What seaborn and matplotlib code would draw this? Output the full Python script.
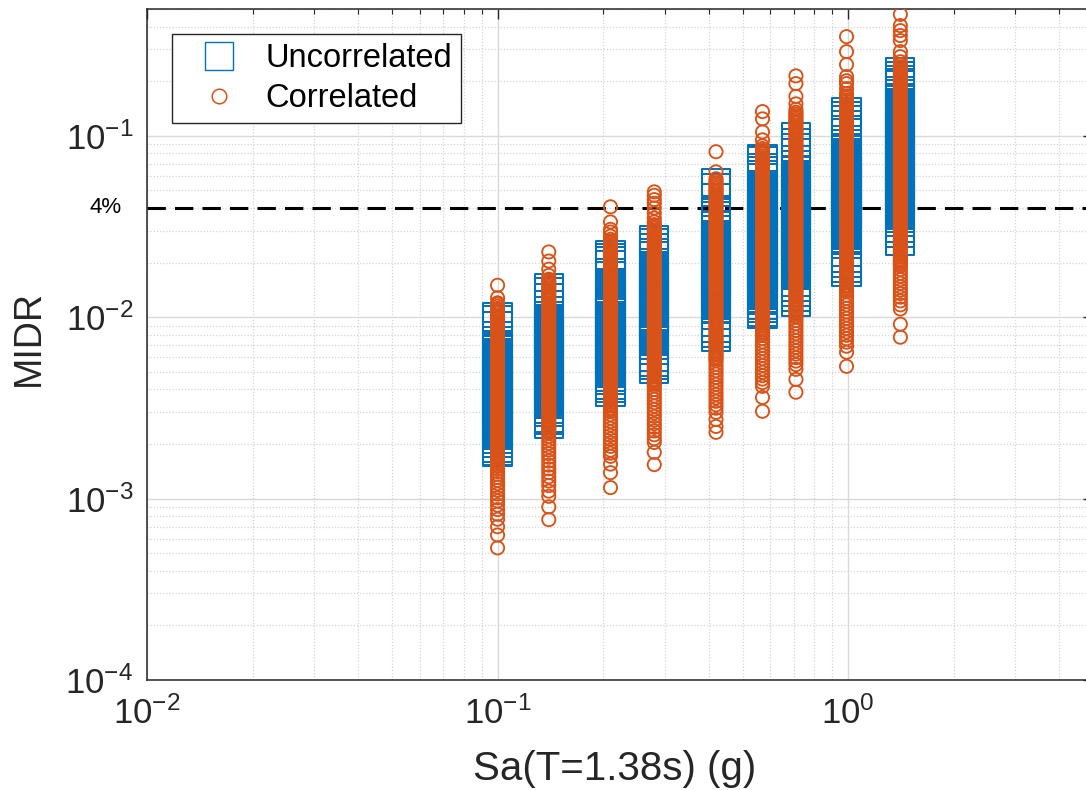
import numpy as np
import pandas as pd
import matplotlib
matplotlib.use("Agg")
import matplotlib.pyplot as plt
import seaborn as sns
from matplotlib.lines import Line2D
from matplotlib.ticker import LogLocator, NullFormatter

# ---------------- data ----------------
sa_levels = [0.10, 0.14, 0.21, 0.28, 0.42, 0.57, 0.71, 0.99, 1.41]

# --- Sa = 0.10 g ---
unc_010 = [1.00e-2, 9.63e-3, 8.91e-3, 7.85e-3, 7.36e-3, 6.92e-3, 6.58e-3, 6.33e-3,
           6.17e-3, 6.03e-3, 5.89e-3, 5.75e-3, 5.62e-3, 5.50e-3, 5.37e-3, 5.25e-3, 5.13e-3, 5.01e-3,
           4.90e-3, 4.79e-3, 4.68e-3, 4.57e-3, 4.47e-3, 4.37e-3, 4.27e-3, 4.17e-3, 4.07e-3, 3.98e-3,
           3.89e-3, 3.80e-3, 3.72e-3, 3.63e-3, 3.55e-3, 3.47e-3, 3.39e-3, 3.31e-3, 3.24e-3, 3.16e-3,
           3.09e-3, 3.02e-3, 2.95e-3, 2.88e-3, 2.82e-3, 2.75e-3, 2.69e-3, 2.63e-3, 2.57e-3, 2.51e-3,
           2.46e-3, 2.40e-3, 2.34e-3, 2.29e-3,
           2.23e-3, 2.14e-3, 2.04e-3, 1.91e-3, 1.84e-3, 1.80e-3]
cor_010 = [1.50e-2, 1.28e-2,
           1.20e-2, 1.18e-2, 1.15e-2, 1.12e-2, 1.10e-2, 1.07e-2, 1.05e-2, 1.02e-2, 1.00e-2,
           9.77e-3, 9.55e-3, 9.33e-3, 9.12e-3, 8.91e-3, 8.71e-3, 8.51e-3, 8.32e-3, 8.13e-3, 7.94e-3,
           7.76e-3, 7.59e-3, 7.41e-3, 7.24e-3, 7.08e-3, 6.92e-3, 6.76e-3, 6.61e-3, 6.46e-3, 6.31e-3,
           6.17e-3, 6.03e-3, 5.89e-3, 5.75e-3, 5.62e-3, 5.50e-3, 5.37e-3, 5.25e-3, 5.13e-3, 5.01e-3,
           4.90e-3, 4.79e-3, 4.68e-3, 4.57e-3, 4.47e-3, 4.37e-3, 4.27e-3, 4.17e-3, 4.07e-3, 3.98e-3,
           3.89e-3, 3.80e-3, 3.72e-3, 3.63e-3, 3.55e-3, 3.47e-3, 3.39e-3, 3.31e-3, 3.24e-3, 3.16e-3,
           3.09e-3, 3.02e-3, 2.95e-3, 2.88e-3, 2.82e-3, 2.75e-3, 2.69e-3, 2.63e-3, 2.57e-3, 2.51e-3,
           2.46e-3, 2.40e-3, 2.34e-3, 2.29e-3, 2.24e-3, 2.19e-3, 2.14e-3, 2.09e-3, 2.04e-3, 2.00e-3,
           1.95e-3, 1.91e-3, 1.86e-3, 1.82e-3, 1.78e-3, 1.74e-3, 1.70e-3, 1.66e-3, 1.62e-3, 1.58e-3,
           1.55e-3, 1.51e-3,
           1.46e-3, 1.41e-3, 1.36e-3, 1.31e-3, 1.26e-3, 1.21e-3, 1.16e-3, 1.11e-3, 1.06e-3,
           1.01e-3, 9.7e-4, 9.2e-4, 8.7e-4, 8.2e-4, 7.7e-4, 7.0e-4, 6.3e-4, 5.35e-4]

# --- Sa = 0.14 g ---
unc_014 = [1.445e-2, 1.374e-2, 1.274e-2, 1.164e-2, 1.079e-2, 1.014e-2,
           9.77e-3, 9.55e-3, 9.33e-3, 9.12e-3, 8.91e-3, 8.71e-3, 8.51e-3, 8.32e-3, 8.13e-3, 7.94e-3,
           7.76e-3, 7.59e-3, 7.41e-3, 7.24e-3, 7.08e-3, 6.92e-3, 6.76e-3, 6.61e-3, 6.46e-3, 6.31e-3,
           6.17e-3, 6.03e-3, 5.89e-3, 5.75e-3, 5.62e-3, 5.50e-3, 5.37e-3, 5.25e-3, 5.13e-3, 5.01e-3,
           4.90e-3, 4.79e-3, 4.68e-3, 4.57e-3, 4.47e-3, 4.37e-3, 4.27e-3, 4.17e-3, 4.07e-3, 3.98e-3,
           3.89e-3, 3.80e-3, 3.72e-3, 3.63e-3, 3.55e-3, 3.47e-3, 3.39e-3, 3.31e-3,
           3.14e-3, 2.99e-3, 2.80e-3, 2.70e-3, 2.59e-3]
cor_014 = [2.29e-2, 2.04e-2, 1.84e-2, 1.70e-2,
           1.62e-2, 1.58e-2, 1.55e-2, 1.51e-2, 1.48e-2, 1.45e-2, 1.41e-2, 1.38e-2, 1.35e-2,
           1.32e-2, 1.29e-2, 1.26e-2,
           1.23e-2, 1.20e-2, 1.18e-2, 1.15e-2, 1.12e-2, 1.10e-2, 1.07e-2, 1.05e-2, 1.02e-2, 1.00e-2,
           9.77e-3, 9.55e-3, 9.33e-3, 9.12e-3, 8.91e-3, 8.71e-3, 8.51e-3, 8.32e-3, 8.13e-3, 7.94e-3,
           7.76e-3, 7.59e-3, 7.41e-3, 7.24e-3, 7.08e-3, 6.92e-3, 6.76e-3, 6.61e-3, 6.46e-3, 6.31e-3,
           6.17e-3, 6.03e-3, 5.89e-3, 5.75e-3, 5.62e-3, 5.50e-3, 5.37e-3, 5.25e-3, 5.13e-3, 5.01e-3,
           4.90e-3, 4.79e-3, 4.68e-3, 4.57e-3, 4.47e-3, 4.37e-3, 4.27e-3, 4.17e-3, 4.07e-3, 3.98e-3,
           3.89e-3, 3.80e-3, 3.72e-3, 3.63e-3, 3.55e-3, 3.47e-3, 3.39e-3, 3.31e-3, 3.24e-3, 3.16e-3,
           3.09e-3, 3.02e-3, 2.95e-3, 2.88e-3, 2.82e-3, 2.75e-3, 2.69e-3, 2.63e-3, 2.57e-3, 2.51e-3,
           2.46e-3, 2.40e-3, 2.34e-3, 2.29e-3,
           2.20e-3, 2.11e-3, 2.02e-3, 1.93e-3, 1.85e-3, 1.77e-3, 1.69e-3, 1.61e-3, 1.53e-3,
           1.46e-3, 1.39e-3, 1.32e-3, 1.25e-3, 1.18e-3, 1.10e-3, 1.03e-3, 9.0e-4, 7.66e-4]

# --- Sa = 0.21 g ---
unc_021 = [2.20e-2, 2.12e-2, 2.04e-2, 1.94e-2, 1.75e-2, 1.69e-2, 1.50e-2,
           1.45e-2, 1.41e-2, 1.38e-2, 1.35e-2, 1.32e-2, 1.29e-2, 1.26e-2,
           1.23e-2, 1.20e-2, 1.18e-2, 1.15e-2, 1.12e-2, 1.10e-2, 1.07e-2, 1.05e-2, 1.02e-2, 1.00e-2,
           9.77e-3, 9.55e-3, 9.33e-3, 9.12e-3, 8.91e-3, 8.71e-3, 8.51e-3, 8.32e-3, 8.13e-3, 7.94e-3,
           7.76e-3, 7.59e-3, 7.41e-3, 7.24e-3, 7.08e-3, 6.92e-3, 6.76e-3, 6.61e-3, 6.46e-3, 6.31e-3,
           6.17e-3, 6.03e-3, 5.89e-3, 5.75e-3, 5.62e-3, 5.50e-3, 5.37e-3, 5.25e-3, 5.13e-3, 5.01e-3,
           4.90e-3,
           4.66e-3, 4.49e-3, 4.21e-3, 4.05e-3, 3.86e-3]
cor_021 = [4.06e-2, 3.35e-2, 3.05e-2, 2.95e-2, 2.80e-2,
           2.69e-2, 2.63e-2, 2.57e-2, 2.51e-2,
           2.46e-2, 2.40e-2, 2.34e-2, 2.29e-2, 2.24e-2, 2.19e-2, 2.14e-2, 2.09e-2, 2.04e-2, 2.00e-2,
           1.95e-2, 1.91e-2, 1.86e-2, 1.82e-2, 1.78e-2, 1.74e-2, 1.70e-2, 1.66e-2, 1.62e-2, 1.58e-2,
           1.55e-2, 1.51e-2, 1.48e-2, 1.45e-2, 1.41e-2, 1.38e-2, 1.35e-2, 1.32e-2, 1.29e-2, 1.26e-2,
           1.23e-2, 1.20e-2, 1.18e-2, 1.15e-2, 1.12e-2, 1.10e-2, 1.07e-2, 1.05e-2, 1.02e-2, 1.00e-2,
           9.77e-3, 9.55e-3, 9.33e-3, 9.12e-3, 8.91e-3, 8.71e-3, 8.51e-3, 8.32e-3, 8.13e-3, 7.94e-3,
           7.76e-3, 7.59e-3, 7.41e-3, 7.24e-3, 7.08e-3, 6.92e-3, 6.76e-3, 6.61e-3, 6.46e-3, 6.31e-3,
           6.17e-3, 6.03e-3, 5.89e-3, 5.75e-3, 5.62e-3, 5.50e-3, 5.37e-3, 5.25e-3, 5.13e-3, 5.01e-3,
           4.90e-3, 4.79e-3, 4.68e-3, 4.57e-3, 4.47e-3, 4.37e-3, 4.27e-3, 4.17e-3, 4.07e-3, 3.98e-3,
           3.89e-3, 3.80e-3, 3.72e-3, 3.63e-3, 3.55e-3, 3.47e-3, 3.39e-3, 3.31e-3, 3.24e-3, 3.16e-3,
           3.09e-3, 3.02e-3,
           2.90e-3, 2.78e-3, 2.66e-3, 2.55e-3, 2.44e-3, 2.33e-3, 2.23e-3, 2.13e-3, 2.03e-3,
           1.94e-3, 1.85e-3, 1.78e-3, 1.71e-3, 1.55e-3, 1.39e-3, 1.15e-3]

# --- Sa = 0.28 g ---
unc_028 = [2.66e-2, 2.56e-2, 2.40e-2, 2.26e-2, 2.17e-2, 1.99e-2,
           1.91e-2, 1.86e-2, 1.82e-2, 1.78e-2, 1.74e-2, 1.70e-2, 1.66e-2, 1.62e-2, 1.58e-2,
           1.55e-2, 1.51e-2, 1.48e-2, 1.45e-2, 1.41e-2, 1.38e-2, 1.35e-2, 1.32e-2, 1.29e-2, 1.26e-2,
           1.23e-2, 1.20e-2, 1.18e-2, 1.15e-2, 1.12e-2, 1.10e-2, 1.07e-2, 1.05e-2, 1.02e-2, 1.00e-2,
           9.77e-3, 9.55e-3, 9.33e-3, 9.12e-3, 8.91e-3, 8.71e-3, 8.51e-3, 8.32e-3, 8.13e-3, 7.94e-3,
           7.76e-3, 7.59e-3, 7.41e-3,
           7.00e-3, 6.58e-3, 6.01e-3, 5.64e-3, 5.43e-3, 5.16e-3]
cor_028 = [4.91e-2, 4.70e-2, 4.45e-2, 4.25e-2, 4.00e-2, 3.75e-2, 3.52e-2, 3.35e-2,
           3.24e-2, 3.16e-2,
           3.09e-2, 3.02e-2, 2.95e-2, 2.88e-2, 2.82e-2, 2.75e-2, 2.69e-2, 2.63e-2, 2.57e-2, 2.51e-2,
           2.46e-2, 2.40e-2, 2.34e-2, 2.29e-2, 2.24e-2, 2.19e-2, 2.14e-2, 2.09e-2, 2.04e-2, 2.00e-2,
           1.95e-2, 1.91e-2, 1.86e-2, 1.82e-2, 1.78e-2, 1.74e-2, 1.70e-2, 1.66e-2, 1.62e-2, 1.58e-2,
           1.55e-2, 1.51e-2, 1.48e-2, 1.45e-2, 1.41e-2, 1.38e-2, 1.35e-2, 1.32e-2, 1.29e-2, 1.26e-2,
           1.23e-2, 1.20e-2, 1.18e-2, 1.15e-2, 1.12e-2, 1.10e-2, 1.07e-2, 1.05e-2, 1.02e-2, 1.00e-2,
           9.77e-3, 9.55e-3, 9.33e-3, 9.12e-3, 8.91e-3, 8.71e-3, 8.51e-3, 8.32e-3, 8.13e-3, 7.94e-3,
           7.76e-3, 7.59e-3, 7.41e-3, 7.24e-3, 7.08e-3, 6.92e-3, 6.76e-3, 6.61e-3, 6.46e-3, 6.31e-3,
           6.17e-3, 6.03e-3, 5.89e-3, 5.75e-3, 5.62e-3, 5.50e-3, 5.37e-3, 5.25e-3, 5.13e-3, 5.01e-3,
           4.90e-3, 4.79e-3, 4.68e-3, 4.57e-3, 4.47e-3, 4.37e-3, 4.27e-3, 4.17e-3,
           4.00e-3, 3.84e-3, 3.68e-3, 3.53e-3, 3.38e-3, 3.24e-3, 3.10e-3, 2.97e-3, 2.84e-3,
           2.71e-3, 2.59e-3, 2.47e-3, 2.36e-3, 2.25e-3, 2.14e-3, 2.04e-3, 1.80e-3, 1.54e-3]

# --- Sa = 0.42 g ---
unc_042 = [5.50e-2, 5.16e-2, 4.54e-2, 3.90e-2, 3.76e-2, 3.43e-2, 3.22e-2, 3.03e-2, 2.84e-2,
           2.75e-2, 2.69e-2, 2.63e-2, 2.57e-2, 2.51e-2,
           2.46e-2, 2.40e-2, 2.34e-2, 2.29e-2, 2.24e-2, 2.19e-2, 2.14e-2, 2.09e-2, 2.04e-2, 2.00e-2,
           1.95e-2, 1.91e-2, 1.86e-2, 1.82e-2, 1.78e-2, 1.74e-2, 1.70e-2, 1.66e-2, 1.62e-2, 1.58e-2,
           1.55e-2, 1.51e-2, 1.48e-2, 1.45e-2, 1.41e-2, 1.38e-2, 1.35e-2, 1.32e-2, 1.29e-2, 1.26e-2,
           1.23e-2, 1.20e-2, 1.18e-2,
           1.12e-2, 1.026e-2, 9.38e-3, 8.69e-3, 8.17e-3, 7.76e-3]
cor_042 = [8.17e-2, 6.33e-2, 5.80e-2,
           5.62e-2, 5.50e-2, 5.37e-2, 5.25e-2, 5.13e-2, 5.01e-2,
           4.90e-2, 4.79e-2, 4.68e-2, 4.57e-2, 4.47e-2, 4.37e-2, 4.27e-2, 4.17e-2, 4.07e-2, 3.98e-2,
           3.89e-2, 3.80e-2, 3.72e-2, 3.63e-2, 3.55e-2, 3.47e-2, 3.39e-2, 3.31e-2, 3.24e-2, 3.16e-2,
           3.09e-2, 3.02e-2, 2.95e-2, 2.88e-2, 2.82e-2, 2.75e-2, 2.69e-2, 2.63e-2, 2.57e-2, 2.51e-2,
           2.46e-2, 2.40e-2, 2.34e-2, 2.29e-2, 2.24e-2, 2.19e-2, 2.14e-2, 2.09e-2, 2.04e-2, 2.00e-2,
           1.95e-2, 1.91e-2, 1.86e-2, 1.82e-2, 1.78e-2, 1.74e-2, 1.70e-2, 1.66e-2, 1.62e-2, 1.58e-2,
           1.55e-2, 1.51e-2, 1.48e-2, 1.45e-2, 1.41e-2, 1.38e-2, 1.35e-2, 1.32e-2, 1.29e-2, 1.26e-2,
           1.23e-2, 1.20e-2, 1.18e-2, 1.15e-2, 1.12e-2, 1.10e-2, 1.07e-2, 1.05e-2, 1.02e-2, 1.00e-2,
           9.77e-3, 9.55e-3, 9.33e-3, 9.12e-3, 8.91e-3, 8.71e-3, 8.51e-3, 8.32e-3, 8.13e-3, 7.94e-3,
           7.76e-3, 7.59e-3, 7.41e-3, 7.24e-3, 7.08e-3, 6.92e-3, 6.76e-3, 6.61e-3, 6.46e-3, 6.31e-3,
           6.17e-3, 6.03e-3, 5.89e-3, 5.75e-3,
           5.52e-3, 5.29e-3, 5.07e-3, 4.86e-3, 4.66e-3, 4.46e-3, 4.27e-3, 4.09e-3, 3.92e-3,
           3.75e-3, 3.59e-3, 3.44e-3, 3.29e-3, 3.15e-3, 2.99e-3, 2.73e-3, 2.50e-3, 2.32e-3]

# --- Sa = 0.57 g ---
unc_057 = [7.46e-2, 7.28e-2, 6.66e-2, 6.41e-2, 6.09e-2, 5.86e-2, 5.36e-2, 5.16e-2,
           5.01e-2,
           4.90e-2, 4.79e-2, 4.68e-2, 4.57e-2, 4.47e-2, 4.37e-2, 4.27e-2, 4.17e-2, 4.07e-2, 3.98e-2,
           3.89e-2, 3.80e-2, 3.72e-2, 3.63e-2, 3.55e-2, 3.47e-2, 3.39e-2, 3.31e-2, 3.24e-2, 3.16e-2,
           3.09e-2, 3.02e-2, 2.95e-2, 2.88e-2, 2.82e-2, 2.75e-2, 2.69e-2, 2.63e-2, 2.57e-2, 2.51e-2,
           2.46e-2, 2.40e-2, 2.34e-2, 2.29e-2, 2.24e-2, 2.19e-2, 2.14e-2, 2.09e-2, 2.04e-2, 2.00e-2,
           1.95e-2, 1.91e-2, 1.86e-2, 1.82e-2, 1.78e-2, 1.74e-2, 1.70e-2, 1.66e-2, 1.62e-2, 1.58e-2,
           1.55e-2, 1.51e-2, 1.48e-2, 1.45e-2, 1.41e-2, 1.38e-2, 1.35e-2, 1.32e-2,
           1.274e-2, 1.242e-2, 1.164e-2, 1.12e-2, 1.067e-2, 1.04e-2]
cor_057 = [1.36e-1, 1.24e-1, 1.05e-1, 9.50e-2, 8.80e-2,
           8.51e-2, 8.32e-2, 8.13e-2, 7.94e-2,
           7.76e-2, 7.59e-2, 7.41e-2, 7.24e-2, 7.08e-2, 6.92e-2, 6.76e-2, 6.61e-2, 6.46e-2, 6.31e-2,
           6.17e-2, 6.03e-2, 5.89e-2, 5.75e-2, 5.62e-2, 5.50e-2, 5.37e-2, 5.25e-2, 5.13e-2, 5.01e-2,
           4.90e-2, 4.79e-2, 4.68e-2, 4.57e-2, 4.47e-2, 4.37e-2, 4.27e-2, 4.17e-2, 4.07e-2, 3.98e-2,
           3.89e-2, 3.80e-2, 3.72e-2, 3.63e-2, 3.55e-2, 3.47e-2, 3.39e-2, 3.31e-2, 3.24e-2, 3.16e-2,
           3.09e-2, 3.02e-2, 2.95e-2, 2.88e-2, 2.82e-2, 2.75e-2, 2.69e-2, 2.63e-2, 2.57e-2, 2.51e-2,
           2.46e-2, 2.40e-2, 2.34e-2, 2.29e-2, 2.24e-2, 2.19e-2, 2.14e-2, 2.09e-2, 2.04e-2, 2.00e-2,
           1.95e-2, 1.91e-2, 1.86e-2, 1.82e-2, 1.78e-2, 1.74e-2, 1.70e-2, 1.66e-2, 1.62e-2, 1.58e-2,
           1.55e-2, 1.51e-2, 1.48e-2, 1.45e-2, 1.41e-2, 1.38e-2, 1.35e-2, 1.32e-2, 1.29e-2, 1.26e-2,
           1.23e-2, 1.20e-2, 1.18e-2, 1.15e-2, 1.12e-2, 1.10e-2, 1.07e-2, 1.05e-2, 1.02e-2, 1.00e-2,
           9.77e-3, 9.55e-3, 9.33e-3, 9.12e-3, 8.91e-3, 8.71e-3, 8.51e-3, 8.32e-3, 8.13e-3, 7.94e-3,
           7.62e-3, 7.31e-3, 7.01e-3, 6.72e-3, 6.44e-3, 6.17e-3, 5.91e-3, 5.66e-3, 5.42e-3,
           5.19e-3, 4.97e-3, 4.76e-3, 4.56e-3, 4.36e-3, 4.16e-3, 3.61e-3, 3.03e-3]

# --- Sa = 0.71 g ---
unc_071 = [9.86e-2, 9.15e-2, 8.59e-2, 8.05e-2, 7.37e-2, 6.92e-2, 6.49e-2, 6.09e-2,
           5.89e-2, 5.75e-2, 5.62e-2, 5.50e-2, 5.37e-2, 5.25e-2, 5.13e-2, 5.01e-2,
           4.90e-2, 4.79e-2, 4.68e-2, 4.57e-2, 4.47e-2, 4.37e-2, 4.27e-2, 4.17e-2, 4.07e-2, 3.98e-2,
           3.89e-2, 3.80e-2, 3.72e-2, 3.63e-2, 3.55e-2, 3.47e-2, 3.39e-2, 3.31e-2, 3.24e-2, 3.16e-2,
           3.09e-2, 3.02e-2, 2.95e-2, 2.88e-2, 2.82e-2, 2.75e-2, 2.69e-2, 2.63e-2, 2.57e-2, 2.51e-2,
           2.46e-2, 2.40e-2, 2.34e-2, 2.29e-2, 2.24e-2, 2.19e-2, 2.14e-2, 2.09e-2, 2.04e-2, 2.00e-2,
           1.95e-2, 1.91e-2, 1.86e-2, 1.82e-2, 1.78e-2,
           1.71e-2, 1.56e-2, 1.47e-2, 1.37e-2, 1.29e-2, 1.22e-2]
cor_071 = [2.14e-1, 1.94e-1, 1.65e-1, 1.50e-1, 1.40e-1,
           1.35e-1, 1.32e-1, 1.29e-1, 1.26e-1,
           1.23e-1, 1.20e-1, 1.18e-1, 1.15e-1, 1.12e-1, 1.10e-1, 1.07e-1, 1.05e-1, 1.02e-1, 1.00e-1,
           9.77e-2, 9.55e-2, 9.33e-2, 9.12e-2, 8.91e-2, 8.71e-2, 8.51e-2, 8.32e-2, 8.13e-2, 7.94e-2,
           7.76e-2, 7.59e-2, 7.41e-2, 7.24e-2, 7.08e-2, 6.92e-2, 6.76e-2, 6.61e-2, 6.46e-2, 6.31e-2,
           6.17e-2, 6.03e-2, 5.89e-2, 5.75e-2, 5.62e-2, 5.50e-2, 5.37e-2, 5.25e-2, 5.13e-2, 5.01e-2,
           4.90e-2, 4.79e-2, 4.68e-2, 4.57e-2, 4.47e-2, 4.37e-2, 4.27e-2, 4.17e-2, 4.07e-2, 3.98e-2,
           3.89e-2, 3.80e-2, 3.72e-2, 3.63e-2, 3.55e-2, 3.47e-2, 3.39e-2, 3.31e-2, 3.24e-2, 3.16e-2,
           3.09e-2, 3.02e-2, 2.95e-2, 2.88e-2, 2.82e-2, 2.75e-2, 2.69e-2, 2.63e-2, 2.57e-2, 2.51e-2,
           2.46e-2, 2.40e-2, 2.34e-2, 2.29e-2, 2.24e-2, 2.19e-2, 2.14e-2, 2.09e-2, 2.04e-2, 2.00e-2,
           1.95e-2, 1.91e-2, 1.86e-2, 1.82e-2, 1.78e-2, 1.74e-2, 1.70e-2, 1.66e-2, 1.62e-2, 1.58e-2,
           1.55e-2, 1.51e-2, 1.48e-2, 1.45e-2, 1.41e-2, 1.38e-2, 1.35e-2, 1.32e-2, 1.29e-2, 1.26e-2,
           1.23e-2, 1.20e-2, 1.18e-2, 1.15e-2, 1.12e-2, 1.10e-2, 1.07e-2, 1.05e-2, 1.02e-2, 1.00e-2,
           9.60e-3, 9.21e-3, 8.83e-3, 8.46e-3, 8.11e-3, 7.77e-3, 7.44e-3, 7.13e-3, 6.83e-3,
           6.54e-3, 6.26e-3, 5.99e-3, 5.73e-3, 5.48e-3, 5.16e-3, 4.54e-3, 3.86e-3]

# --- Sa = 0.99 g ---
unc_099 = [1.36e-1, 1.29e-1, 1.225e-1, 1.15e-1, 1.08e-1, 1.04e-1, 9.50e-2, 8.38e-2,
           7.94e-2,
           7.76e-2, 7.59e-2, 7.41e-2, 7.24e-2, 7.08e-2, 6.92e-2, 6.76e-2, 6.61e-2, 6.46e-2, 6.31e-2,
           6.17e-2, 6.03e-2, 5.89e-2, 5.75e-2, 5.62e-2, 5.50e-2, 5.37e-2, 5.25e-2, 5.13e-2, 5.01e-2,
           4.90e-2, 4.79e-2, 4.68e-2, 4.57e-2, 4.47e-2, 4.37e-2, 4.27e-2, 4.17e-2, 4.07e-2, 3.98e-2,
           3.89e-2, 3.80e-2, 3.72e-2, 3.63e-2, 3.55e-2, 3.47e-2, 3.39e-2, 3.31e-2, 3.24e-2, 3.16e-2,
           3.09e-2, 3.02e-2, 2.95e-2, 2.88e-2,
           2.73e-2, 2.29e-2, 2.12e-2, 1.99e-2, 1.87e-2, 1.77e-2]
cor_099 = [3.52e-1, 2.91e-1, 2.47e-1, 2.12e-1, 2.01e-1, 1.94e-1, 1.82e-1, 1.71e-1,
           1.66e-1, 1.62e-1, 1.58e-1,
           1.55e-1, 1.51e-1, 1.48e-1, 1.45e-1, 1.41e-1, 1.38e-1, 1.35e-1, 1.32e-1, 1.29e-1, 1.26e-1,
           1.23e-1, 1.20e-1, 1.18e-1, 1.15e-1, 1.12e-1, 1.10e-1, 1.07e-1, 1.05e-1, 1.02e-1, 1.00e-1,
           9.77e-2, 9.55e-2, 9.33e-2, 9.12e-2, 8.91e-2, 8.71e-2, 8.51e-2, 8.32e-2, 8.13e-2, 7.94e-2,
           7.76e-2, 7.59e-2, 7.41e-2, 7.24e-2, 7.08e-2, 6.92e-2, 6.76e-2, 6.61e-2, 6.46e-2, 6.31e-2,
           6.17e-2, 6.03e-2, 5.89e-2, 5.75e-2, 5.62e-2, 5.50e-2, 5.37e-2, 5.25e-2, 5.13e-2, 5.01e-2,
           4.90e-2, 4.79e-2, 4.68e-2, 4.57e-2, 4.47e-2, 4.37e-2, 4.27e-2, 4.17e-2, 4.07e-2, 3.98e-2,
           3.89e-2, 3.80e-2, 3.72e-2, 3.63e-2, 3.55e-2, 3.47e-2, 3.39e-2, 3.31e-2, 3.24e-2, 3.16e-2,
           3.09e-2, 3.02e-2, 2.95e-2, 2.88e-2, 2.82e-2, 2.75e-2, 2.69e-2, 2.63e-2, 2.57e-2, 2.51e-2,
           2.46e-2, 2.40e-2, 2.34e-2, 2.29e-2, 2.24e-2, 2.19e-2, 2.14e-2, 2.09e-2, 2.04e-2, 2.00e-2,
           1.95e-2, 1.91e-2, 1.86e-2, 1.82e-2, 1.78e-2, 1.74e-2, 1.70e-2, 1.66e-2, 1.62e-2, 1.58e-2,
           1.55e-2, 1.51e-2, 1.48e-2, 1.45e-2, 1.41e-2, 1.38e-2,
           1.32e-2, 1.27e-2, 1.22e-2, 1.17e-2, 1.12e-2, 1.07e-2, 1.03e-2, 9.86e-3, 9.45e-3,
           9.05e-3, 8.67e-3, 8.30e-3, 7.95e-3, 7.61e-3, 7.29e-3, 6.92e-3, 6.41e-3, 5.36e-3]

# --- Sa = 1.41 g ---
unc_141 = [2.26e-1, 2.14e-1, 2.04e-1, 1.96e-1, 1.91e-1, 1.77e-1, 1.69e-1, 1.62e-1, 1.58e-1,
           1.51e-1, 1.48e-1, 1.45e-1, 1.41e-1, 1.38e-1, 1.35e-1, 1.32e-1, 1.29e-1, 1.26e-1,
           1.23e-1, 1.20e-1, 1.18e-1, 1.15e-1, 1.12e-1, 1.10e-1, 1.07e-1, 1.05e-1, 1.02e-1, 1.00e-1,
           9.77e-2, 9.55e-2, 9.33e-2, 9.12e-2, 8.91e-2, 8.71e-2, 8.51e-2, 8.32e-2, 8.13e-2, 7.94e-2,
           7.76e-2, 7.59e-2, 7.41e-2, 7.24e-2, 7.08e-2, 6.92e-2, 6.76e-2, 6.61e-2, 6.46e-2, 6.31e-2,
           6.17e-2, 6.03e-2, 5.89e-2, 5.75e-2, 5.62e-2, 5.50e-2, 5.37e-2, 5.25e-2, 5.13e-2, 5.01e-2,
           4.90e-2, 4.79e-2, 4.68e-2, 4.57e-2, 4.47e-2, 4.37e-2, 4.27e-2, 4.17e-2, 4.07e-2, 3.98e-2,
           3.89e-2, 3.80e-2,
           3.66e-2, 3.52e-2, 3.35e-2, 3.10e-2, 2.91e-2, 2.63e-2]
cor_141 = [4.67e-1, 4.05e-1, 3.80e-1, 3.57e-1, 3.35e-1, 2.91e-1, 2.73e-1, 2.56e-1,
           2.46e-1, 2.40e-1, 2.34e-1, 2.29e-1, 2.24e-1, 2.19e-1, 2.14e-1, 2.09e-1, 2.04e-1, 2.00e-1,
           1.95e-1, 1.91e-1, 1.86e-1, 1.82e-1, 1.78e-1, 1.74e-1, 1.70e-1, 1.66e-1, 1.62e-1, 1.58e-1,
           1.55e-1, 1.51e-1, 1.48e-1, 1.45e-1, 1.41e-1, 1.38e-1, 1.35e-1, 1.32e-1, 1.29e-1, 1.26e-1,
           1.23e-1, 1.20e-1, 1.18e-1, 1.15e-1, 1.12e-1, 1.10e-1, 1.07e-1, 1.05e-1, 1.02e-1, 1.00e-1,
           9.77e-2, 9.55e-2, 9.33e-2, 9.12e-2, 8.91e-2, 8.71e-2, 8.51e-2, 8.32e-2, 8.13e-2, 7.94e-2,
           7.76e-2, 7.59e-2, 7.41e-2, 7.24e-2, 7.08e-2, 6.92e-2, 6.76e-2, 6.61e-2, 6.46e-2, 6.31e-2,
           6.17e-2, 6.03e-2, 5.89e-2, 5.75e-2, 5.62e-2, 5.50e-2, 5.37e-2, 5.25e-2, 5.13e-2, 5.01e-2,
           4.90e-2, 4.79e-2, 4.68e-2, 4.57e-2, 4.47e-2, 4.37e-2, 4.27e-2, 4.17e-2, 4.07e-2, 3.98e-2,
           3.89e-2, 3.80e-2, 3.72e-2, 3.63e-2, 3.55e-2, 3.47e-2, 3.39e-2, 3.31e-2, 3.24e-2, 3.16e-2,
           3.09e-2, 3.02e-2, 2.95e-2, 2.88e-2, 2.82e-2, 2.75e-2, 2.69e-2, 2.63e-2, 2.57e-2, 2.51e-2,
           2.46e-2, 2.40e-2, 2.34e-2, 2.29e-2, 2.24e-2, 2.19e-2, 2.14e-2, 2.09e-2, 2.04e-2, 2.00e-2,
           1.95e-2, 1.91e-2,
           1.83e-2, 1.75e-2, 1.68e-2, 1.61e-2, 1.54e-2, 1.47e-2, 1.41e-2, 1.35e-2, 1.29e-2,
           1.23e-2, 1.17e-2, 1.11e-2, 9.15e-3, 7.76e-3]

uncorrelated_sets = [unc_010, unc_014, unc_021, unc_028, unc_042, unc_057, unc_071, unc_099, unc_141]
correlated_sets = [cor_010, cor_014, cor_021, cor_028, cor_042, cor_057, cor_071, cor_099, cor_141]

series_labels = ["Uncorrelated", "Correlated"]
drift_limit = 0.04
drift_limit_label = "4%"
x_label = "Sa(T=1.38s) (g)"
y_label = "MIDR"
x_limits = (0.01, 5.0)
y_limits = (1e-4, 0.5)

# ---------------- build tidy frame ----------------
rows = []
for sa, unc, cor in zip(sa_levels, uncorrelated_sets, correlated_sets):
    rows += [(sa, v, series_labels[0]) for v in unc]
    rows += [(sa, v, series_labels[1]) for v in cor]
df = pd.DataFrame(rows, columns=["Sa", "MIDR", "Case"])

# ---------------- style ----------------
sns.set_theme(style="white")
plt.rcParams["font.family"] = ["Liberation Sans", "DejaVu Sans"]
plt.rcParams["mathtext.fontset"] = "custom"
plt.rcParams["mathtext.rm"] = "Liberation Sans"
plt.rcParams["mathtext.it"] = "Liberation Sans:italic"
plt.rcParams["mathtext.bf"] = "Liberation Sans:bold"
plt.rcParams["axes.unicode_minus"] = True

blue = "#0072BD"
orange = "#D95319"
ink = "#262626"

fig = plt.figure(figsize=(10.86, 7.90), dpi=100)
ax = fig.add_axes([0.1354, 0.1392, 0.8711, 0.8494])
ax.set_xscale("log")
ax.set_yscale("log")

ax.axhline(drift_limit, color="black", lw=2.2, ls=(0, (6, 3)), zorder=2)

sns.scatterplot(data=df[df["Case"] == series_labels[0]], x="Sa", y="MIDR", ax=ax,
                marker="s", s=410, facecolor="none", edgecolor=blue, linewidth=1.45,
                zorder=3, legend=False)
sns.scatterplot(data=df[df["Case"] == series_labels[1]], x="Sa", y="MIDR", ax=ax,
                marker="o", s=90, facecolor="none", edgecolor=orange, linewidth=1.35,
                zorder=4, legend=False)

ax.set_xlim(*x_limits)
ax.set_ylim(*y_limits)

ax.xaxis.set_major_locator(LogLocator(base=10, numticks=20))
ax.yaxis.set_major_locator(LogLocator(base=10, numticks=20))
ax.xaxis.set_minor_locator(LogLocator(base=10, subs=np.arange(2, 10), numticks=100))
ax.yaxis.set_minor_locator(LogLocator(base=10, subs=np.arange(2, 10), numticks=100))
ax.xaxis.set_minor_formatter(NullFormatter())
ax.yaxis.set_minor_formatter(NullFormatter())

ax.set_axisbelow(True)
ax.grid(True, which="major", color="#d9d9d9", lw=1.0, ls="-")
ax.grid(True, which="minor", color="#d4d4d4", lw=0.9, ls=(0, (1, 1.5)))

for sp in ax.spines.values():
    sp.set_visible(True)
    sp.set_color(ink)
    sp.set_linewidth(1.1)

ax.tick_params(which="both", direction="in", top=True, right=True, color=ink,
               labelcolor=ink)
ax.tick_params(which="major", length=7, width=1.0, labelsize=25)
ax.tick_params(axis="x", which="major", pad=12)
ax.tick_params(axis="y", which="major", pad=10)
ax.tick_params(which="minor", length=3.5, width=0.8)

ax.set_xlabel(x_label, fontsize=29, color=ink)
ax.set_ylabel(y_label, fontsize=27, color=ink)
ax.xaxis.set_label_coords(0.4947, -0.104)
ax.yaxis.set_label_coords(-0.1057, 0.51)

ax.annotate(drift_limit_label, xy=(0, drift_limit), xycoords=("axes fraction", "data"),
            xytext=(-18, 0), textcoords="offset points", ha="right", va="center",
            fontsize=16, color="black", annotation_clip=False)

handles = [
    Line2D([], [], marker="s", ls="none", mfc="none", mec=blue, ms=20, mew=1.0),
    Line2D([], [], marker="o", ls="none", mfc="none", mec=orange, ms=10.5, mew=1.1),
]
leg = ax.legend(handles, series_labels, loc="upper left", bbox_to_anchor=(0.0264, 0.963),
                borderaxespad=0, frameon=True, fancybox=False, edgecolor=ink,
                fontsize=23.5, handlelength=2.33, handletextpad=0.25, borderpad=0.28,
                labelspacing=0.28, framealpha=1)
leg.get_frame().set_linewidth(1.0)
for t in leg.get_texts():
    t.set_color("black")

fig.savefig("out.png", dpi=100)
